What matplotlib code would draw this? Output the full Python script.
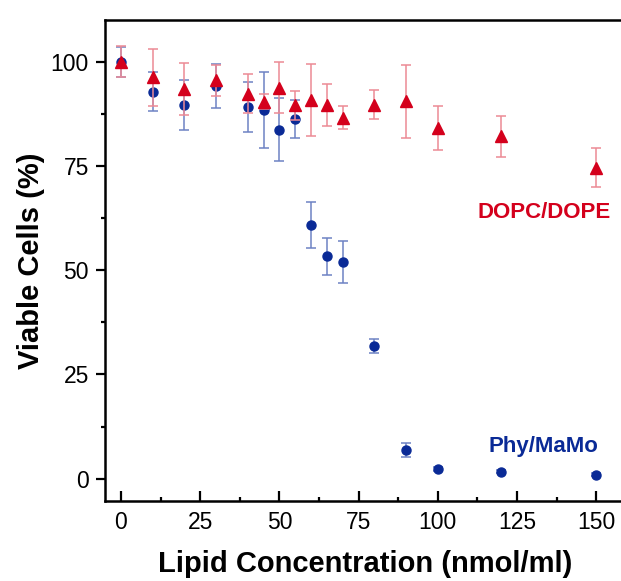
import matplotlib
matplotlib.use("Agg")
import matplotlib.pyplot as plt
from matplotlib.ticker import MultipleLocator

plt.rcParams['font.family'] = ['Liberation Sans', 'DejaVu Sans']

# DOPC/DOPE (red triangles)
dope_x = [0, 10, 20, 30, 40, 45, 50, 55, 60, 65, 70, 80, 90, 100, 120, 150]
dope_y = [100, 96.2, 93.5, 95.5, 92.3, 90.4, 93.7, 89.5, 90.8, 89.6, 86.6, 89.7, 90.5, 84.1, 82.1, 74.6]
dope_err = [3.7, 6.8, 6.2, 3.7, 4.7, 1.8, 6.1, 3.4, 8.7, 5.0, 2.8, 3.4, 8.8, 5.3, 4.9, 4.6]

# Phy/MaMo (blue circles)
mamo_x = [0, 10, 20, 30, 40, 45, 50, 55, 60, 65, 70, 80, 90, 100, 120, 150]
mamo_y = [100, 92.8, 89.6, 94.1, 89.1, 88.5, 83.7, 86.3, 60.8, 53.3, 51.9, 31.9, 6.9, 2.3, 1.7, 1.0]
mamo_err = [3.6, 4.6, 6.0, 5.3, 6.0, 9.1, 7.6, 4.5, 5.5, 4.5, 5.0, 1.7, 1.6, 0.4, 0.4, 0.3]

red = '#d4001c'
blue = '#0a2a96'

fig = plt.figure(figsize=(6.21, 5.81), dpi=100)
ax = fig.add_axes([0.169, 0.1377, 0.8374, 0.828])

ax.errorbar(mamo_x, mamo_y, yerr=mamo_err, fmt='o', color=blue, ms=6.5,
            ecolor='#6d82c4', elinewidth=1.1, capsize=3.6, capthick=1.1, zorder=3)
ax.errorbar(dope_x, dope_y, yerr=dope_err, fmt='^', color=red, ms=8.5,
            ecolor='#ec8a95', elinewidth=1.1, capsize=3.6, capthick=1.1, zorder=4)

ax.text(154.7, 63.9, 'DOPC/DOPE', color=red, fontsize=16, fontweight='bold',
        ha='right', va='center')
ax.text(150.6, 7.7, 'Phy/MaMo', color=blue, fontsize=16, fontweight='bold',
        ha='right', va='center')

ax.set_xlim(-5.05, 159.1)
ax.set_ylim(-5.35, 110.0)

ax.xaxis.set_major_locator(MultipleLocator(25))
ax.xaxis.set_minor_locator(MultipleLocator(12.5))
ax.yaxis.set_major_locator(MultipleLocator(25))
ax.yaxis.set_minor_locator(MultipleLocator(12.5))

for s in ax.spines.values():
    s.set_linewidth(1.8)
ax.spines['right'].set_visible(False)

ax.tick_params(axis='x', which='major', direction='in', length=7.5, width=1.6,
               labelsize=16.5, pad=7)
ax.tick_params(axis='x', which='minor', direction='in', length=3, width=1.6)
ax.tick_params(axis='y', which='major', direction='out', length=6.5, width=1.6,
               labelsize=16.5, pad=5)
ax.tick_params(axis='y', which='minor', direction='out', length=3, width=1.6)

ax.set_xlabel('Lipid Concentration (nmol/ml)', fontsize=21, fontweight='bold',
              labelpad=12)
ax.set_ylabel('Viable Cells (%)', fontsize=21, fontweight='bold', labelpad=4)

fig.savefig('out.png', dpi=100)
